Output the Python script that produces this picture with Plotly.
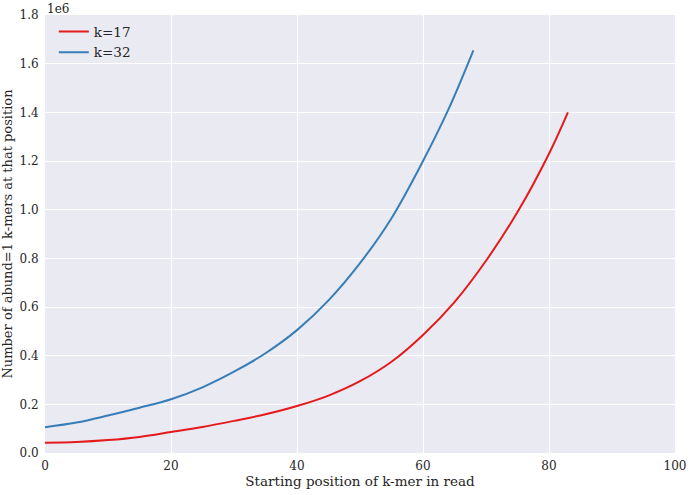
import plotly.graph_objects as go

# values (y in millions of k-mers)
pos_k17 = [0, 5, 10, 15, 20, 25, 30, 35, 40, 45, 50, 55, 60, 65, 70, 75, 80, 83]
cnt_k17 = [0.042, 0.045, 0.053, 0.066, 0.086, 0.107, 0.132, 0.159, 0.193, 0.236,
           0.295, 0.375, 0.485, 0.62, 0.79, 0.99, 1.23, 1.40]

pos_k32 = [0, 5, 10, 15, 20, 25, 30, 35, 40, 45, 50, 55, 60, 64, 68]
cnt_k32 = [0.106, 0.125, 0.154, 0.186, 0.221, 0.27, 0.334, 0.41, 0.505, 0.627,
           0.78, 0.965, 1.20, 1.41, 1.655]

x_ticks = [0, 20, 40, 60, 80, 100]
y_ticks = [0.0, 0.2, 0.4, 0.6, 0.8, 1.0, 1.2, 1.4, 1.6, 1.8]

font_family = 'DejaVu Serif, serif'

fig = go.Figure()
fig.add_scatter(x=pos_k17, y=[v * 1e6 for v in cnt_k17], name='k=17', mode='lines',
                line=dict(color='#e41a1c', width=2, shape='spline', smoothing=1))
fig.add_scatter(x=pos_k32, y=[v * 1e6 for v in cnt_k32], name='k=32', mode='lines',
                line=dict(color='#377eb8', width=2, shape='spline', smoothing=1))

fig.update_layout(
    width=689, height=495,
    margin=dict(l=45, r=14, t=15, b=42),
    paper_bgcolor='white',
    plot_bgcolor='#EAEAF2',
    font=dict(family=font_family, size=12, color='#262626'),
    legend=dict(x=0.014, y=0.997, xanchor='left', yanchor='top',
                bgcolor='rgba(0,0,0,0)', font=dict(size=13.5), tracegroupgap=0),
    showlegend=True,
)
fig.update_xaxes(
    range=[0, 100], tickvals=x_ticks, ticktext=[str(t) for t in x_ticks],
    showgrid=True, gridcolor='white', gridwidth=1.2, zeroline=False, showline=False,
    ticks='outside', ticklen=2, tickcolor='rgba(0,0,0,0)', automargin=False,
    title=dict(text='Starting position of k-mer in read', font=dict(size=13.5), standoff=4),
)
fig.update_yaxes(
    range=[0, 1.8e6], tickvals=[t * 1e6 for t in y_ticks], ticktext=['%.1f' % t for t in y_ticks],
    showgrid=True, gridcolor='white', gridwidth=1.2, zeroline=False, showline=False,
    ticks='outside', ticklen=3, tickcolor='rgba(0,0,0,0)', automargin=False,
    title=dict(text='Number of abund=1 k-mers at that position', font=dict(size=13), standoff=4),
)
fig.add_annotation(text='1e6', xref='paper', yref='paper', x=0, y=1, xanchor='left', yanchor='bottom',
                   showarrow=False, font=dict(size=12), yshift=-3)

# page has a default 8px body margin; drop it so the figure sits at 0,0
fig.write_html("out.html", config={'displayModeBar': False},
               post_script="document.body.style.margin='0';")
